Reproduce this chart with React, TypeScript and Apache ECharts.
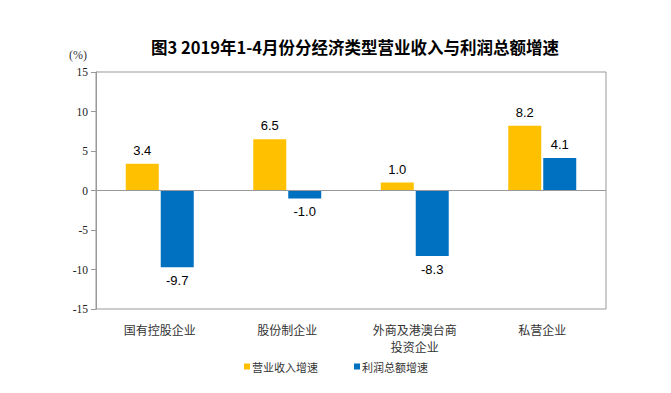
import React, { useEffect, useRef } from "react";
import * as echarts from "echarts";

const categories = ["国有控股企业", "股份制企业", "外商及港澳台商\n投资企业", "私营企业"];
const revenueGrowth = [3.4, 6.5, 1.0, 8.2];
const profitGrowth = [-9.7, -1.0, -8.3, 4.1];
const seriesNames = ["营业收入增速", "利润总额增速"];
const titleText = "图3 2019年1-4月份分经济类型营业收入与利润总额增速";

export default function App() {
  const ref = useRef<HTMLDivElement>(null);
  useEffect(() => {
    document.body.style.margin = "0";
    const chart = echarts.init(ref.current!, null, { renderer: "svg" });
    const labelFmt = (p: any) => Number(p.value).toFixed(1);
    const mkLabel = (vals: number[]) =>
      vals.map((v) => ({
        value: v,
        label: {
          show: true,
          position: v >= 0 ? "top" : "bottom",
          formatter: labelFmt,
          fontFamily: "Liberation Sans, Arial, sans-serif",
          fontSize: 13,
          color: "#000",
          distance: 7,
        },
      }));
    chart.setOption({
      animation: false,
      backgroundColor: "#fff",
      graphic: [
        {
          type: "text",
          x: 355,
          y: 47,
          style: {
            text: titleText,
            textAlign: "center",
            textVerticalAlign: "middle",
            fontSize: 16.5,
            fontWeight: "bold",
            fontFamily: "Noto Sans CJK SC, sans-serif",
            fill: "#000",
          },
        },
        {
          type: "text",
          x: 78,
          y: 55,
          style: {
            text: "(%)",
            textAlign: "center",
            textVerticalAlign: "middle",
            fontSize: 12,
            fontFamily: "Liberation Serif, serif",
            fill: "#333",
          },
        },
      ],
      legend: {
        data: seriesNames,
        left: 239,
        top: 356,
        itemWidth: 6,
        itemHeight: 6,
        itemGap: 36,
        icon: "rect",
        textStyle: { fontSize: 11, color: "#333", fontFamily: "Noto Sans CJK SC, sans-serif", padding: [0, 0, 0, -3] },
      },
      grid: {
        left: 96,
        right: 65,
        top: 72,
        bottom: 84,
        show: true,
        borderColor: "#999",
        borderWidth: 1,
      },
      xAxis: {
        type: "category",
        data: categories,
        axisLine: { show: false, onZero: false },
        axisTick: { show: false },
        axisLabel: {
          margin: 12,
          fontSize: 12,
          color: "#333",
          lineHeight: 17,
          fontFamily: "Noto Sans CJK SC, sans-serif",
        },
      },
      yAxis: {
        type: "value",
        min: -15,
        max: 15,
        interval: 5,
        splitLine: { show: false },
        axisLine: { show: true, lineStyle: { color: "#999" } },
        axisTick: { show: true, length: 5, lineStyle: { color: "#999" } },
        axisLabel: {
          margin: 8,
          fontSize: 11.5,
          color: "#222",
          fontFamily: "Liberation Serif, serif",
        },
      },
      series: [
        {
          name: seriesNames[0],
          type: "bar",
          data: mkLabel(revenueGrowth),
          itemStyle: { color: "#FFC000" },
          barWidth: 33,
          barGap: "6%",
          markLine: {
            silent: true,
            symbol: "none",
            label: { show: false },
            lineStyle: { color: "#999", type: "solid", width: 1 },
            data: [{ yAxis: 0 }],
          },
        },
        {
          name: seriesNames[1],
          type: "bar",
          data: mkLabel(profitGrowth),
          itemStyle: { color: "#0070C0" },
          barWidth: 33,
          barGap: "6%",
        },
      ],
    });
    return () => chart.dispose();
  }, []);
  return <div ref={ref} style={{ width: 671, height: 393 }} />;
}
